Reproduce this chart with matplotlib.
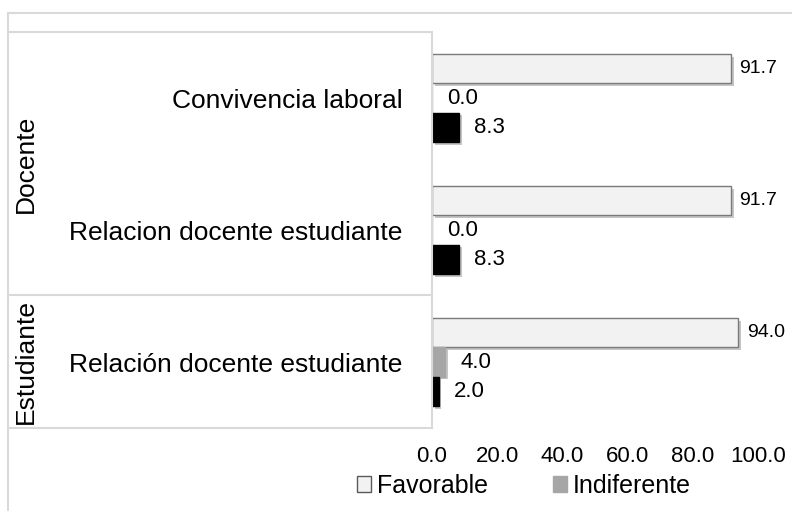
import numpy as np
import matplotlib
matplotlib.use("Agg")
import matplotlib.pyplot as plt
import matplotlib.patheffects as pe
from matplotlib.lines import Line2D
from matplotlib.patches import Patch

plt.rcParams['font.family'] = ['Liberation Sans', 'DejaVu Sans']

# data
aspectos = ['Convivencia laboral', 'Relacion docente estudiante', 'Relación docente estudiante']
grupos = ['Docente', 'Estudiante']
grupo_tam = [2, 1]
favorable = [91.7, 91.7, 94.0]
indiferente = [0.0, 0.0, 4.0]
desfavorable = [8.3, 8.3, 2.0]
xticks = [0, 20, 40, 60, 80, 100]

W, H = 792, 511
fig = plt.figure(figsize=(W / 100, H / 100), dpi=100)


def fx(px):
    return px / W


def fy(py):
    return 1 - py / H


# plot area in pixels
x0, x1 = 432, 758
y0, y1 = 32, 428
ax = fig.add_axes([fx(x0), fy(y1), fx(x1) - fx(x0), fy(y0) - fy(y1)])

n = len(aspectos)
pos = np.arange(n) + 0.5
h = 0.2222
shadow = [pe.withSimplePatchShadow(offset=(2, -2), shadow_rgbFace='#808080', alpha=0.45)]

series = [
    (favorable, -h, '#f2f2f2', '#7a7a7a', 'Favorable', 14, 6),
    (indiferente, 0, '#a6a6a6', '#a6a6a6', 'Indiferente', 16, 11),
    (desfavorable, h, '#000000', '#000000', '_nolegend_', 16, 11),
]
for vals, off, fc, ec, lab, fs, gap in series:
    bars = ax.barh(pos + off, vals, height=h, color=fc, edgecolor=ec, linewidth=1.0, label=lab)
    for b in bars:
        b.set_path_effects(shadow)
    for v, y in zip(vals, pos + off):
        ax.annotate('%.1f' % v, (v, y), xytext=(gap, 0), textcoords='offset points',
                    ha='left', va='center', fontsize=fs, color='#000000')

ax.set_xlim(0, 100)
ax.set_ylim(n, 0)
ax.set_xticks(xticks)
ax.set_xticklabels(['%.1f' % t for t in xticks], fontsize=16)
ax.set_yticks(pos)
ax.set_yticklabels(aspectos, fontsize=19)
ax.tick_params(axis='x', length=0, pad=13)
ax.tick_params(axis='y', length=0, pad=21)
for s in ax.spines.values():
    s.set_visible(False)
ax.patch.set_alpha(0)

# outer chart border (cropped on right and bottom)
gris = '#d9d9d9'
fig.add_artist(Line2D([fx(8), fx(8)], [fy(13), fy(520)], color=gris, lw=1.5))
fig.add_artist(Line2D([fx(8), fx(800)], [fy(13), fy(13)], color=gris, lw=1.5))

# category table lines
for yy in [32, 295, 428]:
    fig.add_artist(Line2D([fx(8), fx(432)], [fy(yy), fy(yy)], color=gris, lw=1.5))
fig.add_artist(Line2D([fx(432), fx(432)], [fy(32), fy(428)], color=gris, lw=1.5))

# group labels
inicio = 0
for g, t in zip(grupos, grupo_tam):
    c = y0 + (inicio + t / 2) * (y1 - y0) / n
    fig.text(fx(26), fy(c), g, rotation=90, ha='center', va='center', fontsize=19)
    inicio += t

handles = [Patch(facecolor='#f2f2f2', edgecolor='#595959', linewidth=1.0, label='Favorable'),
           Patch(facecolor='#a6a6a6', edgecolor='#a6a6a6', label='Indiferente')]
fig.legend(handles=handles, loc='center', bbox_to_anchor=(fx(524), fy(486)), ncol=2,
           frameon=False, fontsize=18, handlelength=0.55, handleheight=0.6,
           handletextpad=0.25, columnspacing=2.6, borderpad=0, borderaxespad=0)

fig.savefig('out.png', dpi=100)
